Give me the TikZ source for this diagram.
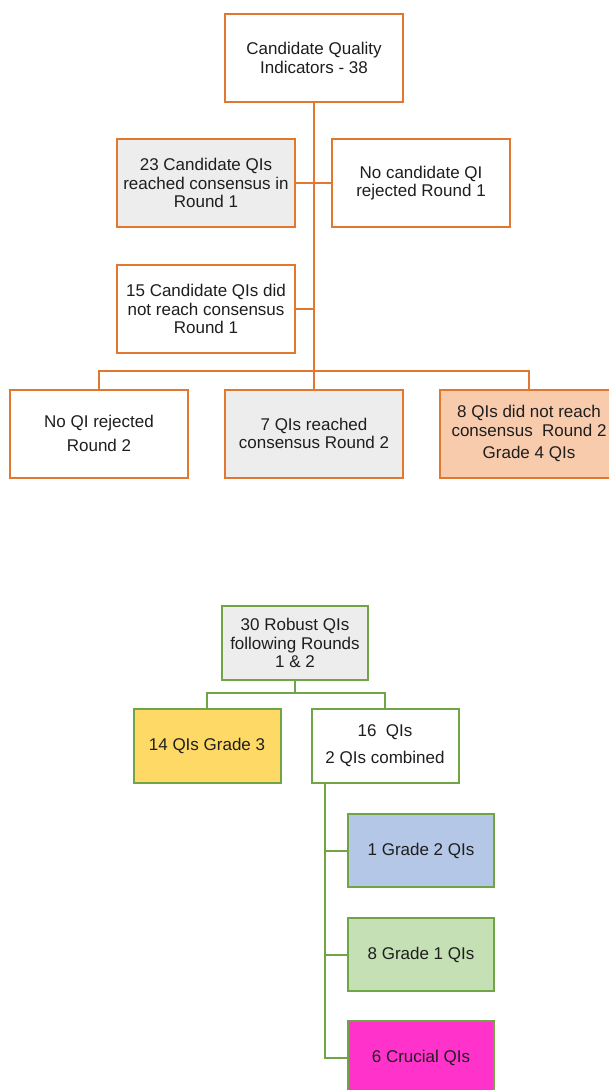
\documentclass[tikz,border=0pt]{standalone}
\usepackage{fontspec}
\setmainfont{Liberation Sans}
\definecolor{qiorange}{HTML}{E0782F}
\definecolor{qigreen}{HTML}{6FA545}
\definecolor{qigray}{HTML}{EDEDED}
\definecolor{qipeach}{HTML}{F8CBAD}
\definecolor{qiyellow}{HTML}{FFD966}
\definecolor{qiblue}{HTML}{B4C7E7}
\definecolor{qilgreen}{HTML}{C5E0B4}
\definecolor{qimagenta}{HTML}{FF33CC}
\definecolor{qitext}{HTML}{1E1E1E}
\begin{document}
\begin{tikzpicture}[x=1pt,y=-1pt,
  qibox/.style={draw, line width=2pt, align=center, inner sep=0pt, text=qitext,
    font=\fontsize{17}{18.7}\selectfont},
  obox/.style={qibox, draw=qiorange, minimum width=178pt, minimum height=88pt},
  gbox/.style={qibox, draw=qigreen, minimum width=146pt, minimum height=73pt},
  oline/.style={draw=qiorange, line width=2pt},
  gline/.style={draw=qigreen, line width=2pt}]
\useasboundingbox (0,0) rectangle (608,1090);
\fill[white] (0,0) rectangle (608,1090);

% Delphi rounds
\node[obox, fill=white] (top) at (314,58) {Candidate Quality\\Indicators - 38};
\node[obox, fill=qigray] (r1yes) at (206,183) {23 Candidate QIs\\reached consensus in\\Round 1};
\node[obox, fill=white] (r1rej) at (421,183) {No candidate QI\\rejected Round 1};
\node[obox, fill=white] (r1no) at (206,309) {15 Candidate QIs did\\not reach consensus\\Round 1};
\node[obox, fill=white] (r2rej) at (99,433.5) {No QI rejected\\[6pt]Round 2};
\node[obox, fill=qigray] (r2yes) at (314,433.5) {7 QIs reached\\consensus Round 2};
\node[obox, fill=qipeach] (r2no) at (529,433.5) {8 QIs did not reach\\consensus\ \ Round 2\\[4pt]Grade 4 QIs};

\coordinate (obus) at (314,371);
\draw[oline] (top.south) -- (r2yes.north);
\draw[oline] (r1yes.east) -- (r1rej.west);
\draw[oline] (r1no.east) -- (r1no.east -| top.south);
\draw[oline] (r2rej.north) -- (r2rej.north |- obus) -- (r2no.north |- obus) -- (r2no.north);

% Grading of the robust indicators
\node[gbox, fill=qigray, minimum height=74pt] (robust) at (295,643) {30 Robust QIs\\following Rounds\\1 \& 2};
\node[gbox, fill=qiyellow, minimum width=147pt, minimum height=74pt] (g3) at (207,746) {14 QIs Grade 3};
\node[gbox, fill=white, minimum width=147pt, minimum height=74pt] (q16) at (385,746) {16\ \ QIs\\[8pt]2 QIs combined};
\node[gbox, fill=qiblue] (g2) at (421,850.5) {1 Grade 2 QIs};
\node[gbox, fill=qilgreen] (g1) at (421,954.5) {8 Grade 1 QIs};
\node[gbox, fill=qimagenta] (crucial) at (421,1057.5) {6 Crucial QIs};

\coordinate (gbus) at (295,693);
\coordinate (spine) at (325,0);
\draw[gline] (robust.south) -- (gbus);
\draw[gline] (g3.north) -- (g3.north |- gbus) -- (q16.north |- gbus) -- (q16.north);
\draw[gline] (q16.south -| spine) -- (crucial.west -| spine) -- (crucial.west);
\draw[gline] (g2.west -| spine) -- (g2.west);
\draw[gline] (g1.west -| spine) -- (g1.west);
\end{tikzpicture}
\end{document}
